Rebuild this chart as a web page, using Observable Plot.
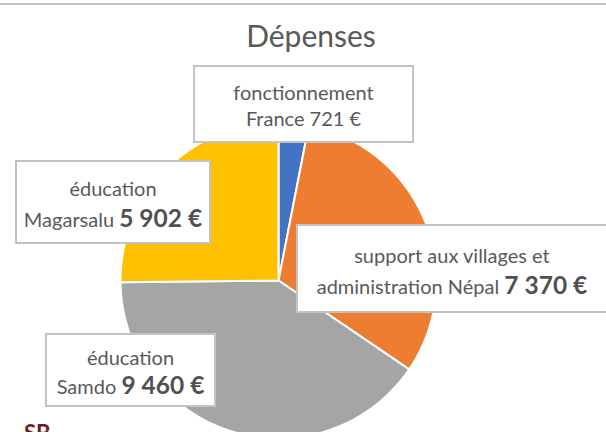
<!DOCTYPE html>
<html>
<head>
<meta charset="utf-8">
<script src="https://cdn.jsdelivr.net/npm/d3@7"></script>
<script src="https://cdn.jsdelivr.net/npm/@observablehq/plot@0.6"></script>
<style>
  html, body { margin: 0; padding: 0; background: #fff; }
  #wrap { position: relative; width: 606px; height: 432px; overflow: hidden; font-family: Lato, "Open Sans", sans-serif; color: #595959; }
  #wrap svg { position: absolute; left: 0; top: 0; }
  .topline { position: absolute; left: 0; top: 3px; width: 606px; height: 2px; background: #c4c4c4; }
  .title { position: absolute; left: 16px; width: 590px; top: 16px; text-align: center; font-size: 30px; line-height: 38px; }
  .box { position: absolute; box-sizing: border-box; background: #fff; border: 2px solid #c3c3c3; }
  .line { position: absolute; left: 0; width: 100%; text-align: center; font-size: 20px; line-height: 24px; white-space: nowrap; }
  .line b { font-size: 24.5px; font-weight: 700; color: #505050; }
  .sb { position: absolute; left: 0; top: 421px; font-size: 22px; line-height: 24px; white-space: nowrap; }
  .sb .dots { color: #999; font-size: 12px; }
  .sb .txt { color: #6b1f22; font-weight: 700; margin-left: 15px; }
</style>
</head>
<body>
<div id="wrap"></div>
<script>
// ---- data ----
const categories = ["fonctionnement France", "support aux villages et administration Népal", "éducation Samdo", "éducation Magarsalu"];
const values = [721, 7370, 9460, 5902];
const colors = ["#4472C4", "#ED7D31", "#A5A5A5", "#FFC000"];
const labelLine1 = ["fonctionnement", "support aux villages et", "éducation", "éducation"];
const labelLine2 = ["France", "administration Népal", "Samdo", "Magarsalu"];
const valueText = ["721 €", "7 370 €", "9 460 €", "5 902 €"];
const valueBold = [false, true, true, true];
const title = "Dépenses";

// ---- layout (label boxes) ----
const boxes = [
  {left: 193, top: 65, width: 221, height: 78, l1: 27, l2: 53},
  {left: 296, top: 224, width: 312, height: 89, l1: 31, l2: 61},
  {left: 45, top: 333, width: 171, height: 74, l1: 24, l2: 52},
  {left: 15, top: 160, width: 196, height: 84, l1: 28, l2: 58}
];

// ---- build slices from values ----
const pie = d3.pie().sort(null).value(d => d)(values);
const slices = pie.map((p, i) => {
  const pts = [{x: 0, y: 0}];
  const n = Math.max(2, Math.ceil((p.endAngle - p.startAngle) / (Math.PI / 180)));
  for (let k = 0; k <= n; k++) {
    const a = p.startAngle + (p.endAngle - p.startAngle) * k / n;
    pts.push({x: Math.sin(a), y: Math.cos(a)});
  }
  return {name: categories[i], color: colors[i], pts};
});

const cx = 278, cy = 280, r = 158, W = 606, H = 432;
const chart = Plot.plot({
  width: W,
  height: H,
  margin: 0,
  x: {domain: [-cx / r, (W - cx) / r], axis: null},
  y: {domain: [-(H - cy) / r, cy / r], axis: null},
  style: {background: "transparent", overflow: "visible"},
  marks: slices.map(s => Plot.line(s.pts, {x: "x", y: "y", fill: s.color, stroke: "#fff", strokeWidth: 2, strokeLinejoin: "round", curve: "linear-closed"}))
});

const wrap = document.getElementById("wrap");
wrap.appendChild(chart);

const tl = document.createElement("div"); tl.className = "topline"; wrap.appendChild(tl);
const t = document.createElement("div"); t.className = "title"; t.textContent = title; wrap.appendChild(t);

boxes.forEach((b, i) => {
  const d = document.createElement("div");
  d.className = "box";
  Object.assign(d.style, {left: b.left + "px", top: b.top + "px", width: b.width + "px", height: b.height + "px"});
  const a = document.createElement("div"); a.className = "line"; a.style.top = (b.l1 - 12 - 2) + "px"; a.textContent = labelLine1[i];
  const c = document.createElement("div"); c.className = "line"; c.style.top = (b.l2 - 12 - 2) + "px";
  if (valueBold[i]) { c.append(labelLine2[i] + " "); const bb = document.createElement("b"); bb.textContent = valueText[i]; c.append(bb); }
  else c.textContent = labelLine2[i] + " " + valueText[i];
  d.append(a, c);
  wrap.appendChild(d);
});

const sb = document.createElement("div"); sb.className = "sb";
sb.innerHTML = '<span class="dots">…</span><span class="txt">SB</span>';
wrap.appendChild(sb);
</script>
</body>
</html>
